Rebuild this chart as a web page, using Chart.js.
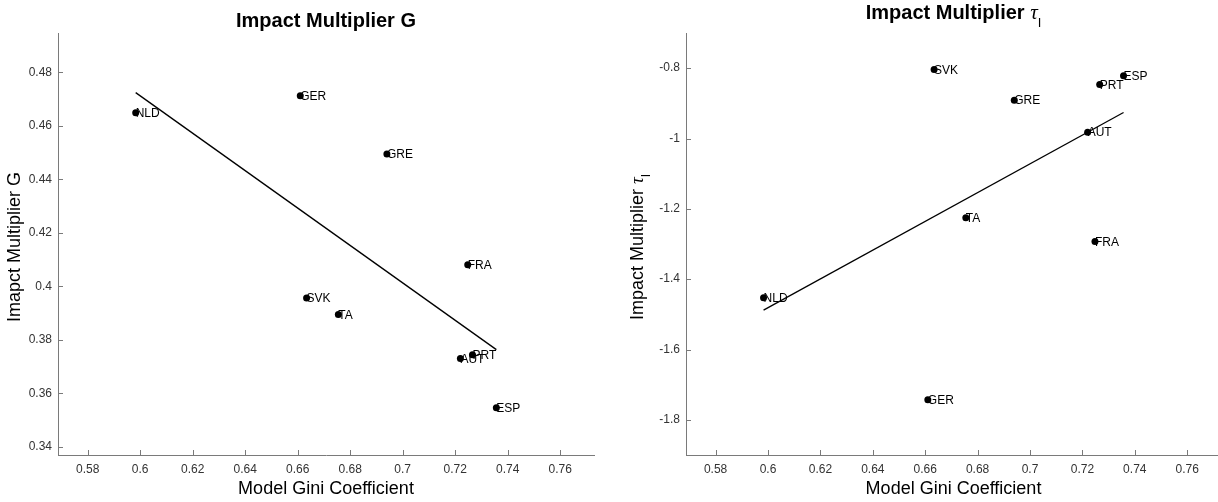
<!DOCTYPE html>
<html>
<head>
<meta charset="utf-8">
<title>Impact multipliers vs Gini</title>
<script src="https://cdn.jsdelivr.net/npm/chart.js@4.4.1/dist/chart.umd.min.js"></script>
<style>
	html, body { margin: 0; padding: 0; background: #fff; overflow: hidden; }
	body { width: 1218px; height: 502px; position: relative; }
	canvas { position: absolute; top: 0; }
	#gChart { left: 0; }
	#tauChart { left: 610px; }
</style>
</head>
<body>
<canvas id="gChart" width="609" height="502"></canvas>
<canvas id="tauChart" width="620" height="502"></canvas>
<script>
// Data
const countries = ['NLD', 'GER', 'GRE', 'FRA', 'SVK', 'TA', 'AUT', 'PRT', 'ESP'];
const giniCoef = [0.5983, 0.6610, 0.6940, 0.7248, 0.6634, 0.6755, 0.7220, 0.7266, 0.7357];
const multG = [0.4649, 0.4712, 0.4495, 0.4080, 0.3956, 0.3894, 0.3730, 0.3744, 0.3546];
const multTau = [-1.4531, -1.7431, -0.8910, -1.2929, -0.8038, -1.2256, -0.9820, -0.8464, -0.8218];

// fitted lines (end points)
const fitGini = [0.5983, 0.7357];
const fitG = [0.4724, 0.3763];
const fitTau = [-1.488, -0.926];

// axis ranges and ticks
const giniRange = [0.5687, 0.7729];
const gRange = [0.3369, 0.4947];
const tauRange = [-1.9, -0.7];
const giniTicks = [0.58, 0.6, 0.62, 0.64, 0.66, 0.68, 0.7, 0.72, 0.74, 0.76];
const gTicks = [0.34, 0.36, 0.38, 0.4, 0.42, 0.44, 0.46, 0.48];
const tauTicks = [-1.8, -1.6, -1.4, -1.2, -1, -0.8];

const FONT = '"Liberation Sans", Arial, Helvetica, sans-serif';
const SERIF = '"Liberation Serif", "Times New Roman", serif';
const AXIS_COLOR = '#7a7a7a';
const TICK_TEXT = '#333333';

function fmt(v) {
	return String(parseFloat(Number(v).toFixed(2)));
}

// draw a row of text pieces (for the tau subscript), centred on cx
function drawRuns(ctx, runs, cx, cy, rotate) {
	ctx.save();
	ctx.translate(cx, cy);
	if (rotate) ctx.rotate(-Math.PI / 2);
	let total = 0;
	const widths = runs.map(r => {
		ctx.font = r.font;
		const w = ctx.measureText(r.text).width;
		total += w;
		return w;
	});
	let x = -total / 2;
	ctx.textAlign = 'left';
	ctx.textBaseline = 'alphabetic';
	ctx.fillStyle = '#000';
	runs.forEach((r, i) => {
		ctx.font = r.font;
		ctx.fillText(r.text, x, r.dy || 0);
		x += widths[i];
	});
	ctx.restore();
}

const panelDecor = {
	id: 'panelDecor',
	afterDraw(chart, args, opts) {
		const { ctx, chartArea: a, scales } = chart;

		// inward tick marks, matlab style
		ctx.save();
		ctx.strokeStyle = AXIS_COLOR;
		ctx.lineWidth = 1;
		ctx.beginPath();
		scales.x.ticks.forEach(t => {
			const px = Math.round(scales.x.getPixelForValue(t.value)) + 0.5;
			ctx.moveTo(px, a.bottom);
			ctx.lineTo(px, a.bottom - 5);
		});
		scales.y.ticks.forEach(t => {
			const py = Math.round(scales.y.getPixelForValue(t.value)) + 0.5;
			ctx.moveTo(a.left, py);
			ctx.lineTo(a.left + 5, py);
		});
		ctx.stroke();
		ctx.restore();

		// country labels start at the marker
		const meta = chart.getDatasetMeta(0);
		ctx.save();
		ctx.font = '12px ' + FONT;
		ctx.fillStyle = '#000';
		ctx.textAlign = 'left';
		ctx.textBaseline = 'middle';
		meta.data.forEach((pt, i) => ctx.fillText(countries[i], pt.x, pt.y + 1));
		ctx.restore();

		const cx = (a.left + a.right) / 2;
		const cy = (a.top + a.bottom) / 2 + 3;
		drawRuns(ctx, opts.title, cx, opts.titleY, false);
		drawRuns(ctx, [{ text: 'Model Gini Coefficient', font: '18px ' + FONT }], cx, 494, false);
		drawRuns(ctx, opts.yTitle, opts.yTitleX, cy, true);
	}
};

function makePanel(canvas, yValues, fitY, yRange, yTicks, yWidth, padRight, decor) {
	return new Chart(canvas, {
		type: 'scatter',
		data: {
			datasets: [
				{
					data: giniCoef.map((x, i) => ({ x, y: yValues[i] })),
					backgroundColor: '#000',
					borderColor: '#000',
					pointRadius: 3.5,
					pointBorderWidth: 0
				},
				{
					data: fitGini.map((x, i) => ({ x, y: fitY[i] })),
					showLine: true,
					borderColor: '#000',
					borderWidth: 1.3,
					pointRadius: 0
				}
			]
		},
		options: {
			responsive: false,
			animation: false,
			devicePixelRatio: 1,
			layout: { padding: { left: 0, right: padRight, top: 33, bottom: 0 } },
			plugins: {
				legend: { display: false },
				tooltip: { enabled: false },
				panelDecor: decor
			},
			scales: {
				x: {
					type: 'linear',
					min: giniRange[0],
					max: giniRange[1],
					afterBuildTicks: s => { s.ticks = giniTicks.map(v => ({ value: v })); },
					afterFit: s => { s.height = 47; },
					grid: { display: false, drawTicks: false },
					border: { display: true, color: AXIS_COLOR, width: 1 },
					ticks: {
						font: { family: FONT, size: 12 },
						color: TICK_TEXT,
						padding: 7,
						maxRotation: 0,
						autoSkip: false,
						callback: v => fmt(v)
					}
				},
				y: {
					type: 'linear',
					min: yRange[0],
					max: yRange[1],
					afterBuildTicks: s => { s.ticks = yTicks.map(v => ({ value: v })); },
					afterFit: s => { s.width = yWidth; },
					grid: { display: false, drawTicks: false },
					border: { display: true, color: AXIS_COLOR, width: 1 },
					ticks: {
						font: { family: FONT, size: 12 },
						color: TICK_TEXT,
						padding: 6,
						autoSkip: false,
						callback: v => fmt(v)
					}
				}
			}
		},
		plugins: [panelDecor]
	});
}

makePanel(document.getElementById('gChart'), multG, fitG, gRange, gTicks, 58, 15, {
	title: [{ text: 'Impact Multiplier G', font: 'bold 20px ' + FONT }],
	titleY: 26.5,
	yTitle: [{ text: 'Imapct Multiplier G', font: '18px ' + FONT }],
	yTitleX: 20
});

makePanel(document.getElementById('tauChart'), multTau, fitTau, tauRange, tauTicks, 76, 9, {
	title: [
		{ text: 'Impact Multiplier ', font: 'bold 20px ' + FONT },
		{ text: 'τ', font: 'italic 21px ' + SERIF },
		{ text: 'I', font: '13px ' + FONT, dy: 8 }
	],
	titleY: 19,
	yTitle: [
		{ text: 'Impact Multiplier ', font: '18px ' + FONT },
		{ text: 'τ', font: 'italic 19px ' + SERIF },
		{ text: 'I', font: '12px ' + FONT, dy: 7 }
	],
	yTitleX: 33
});
</script>
</body>
</html>
